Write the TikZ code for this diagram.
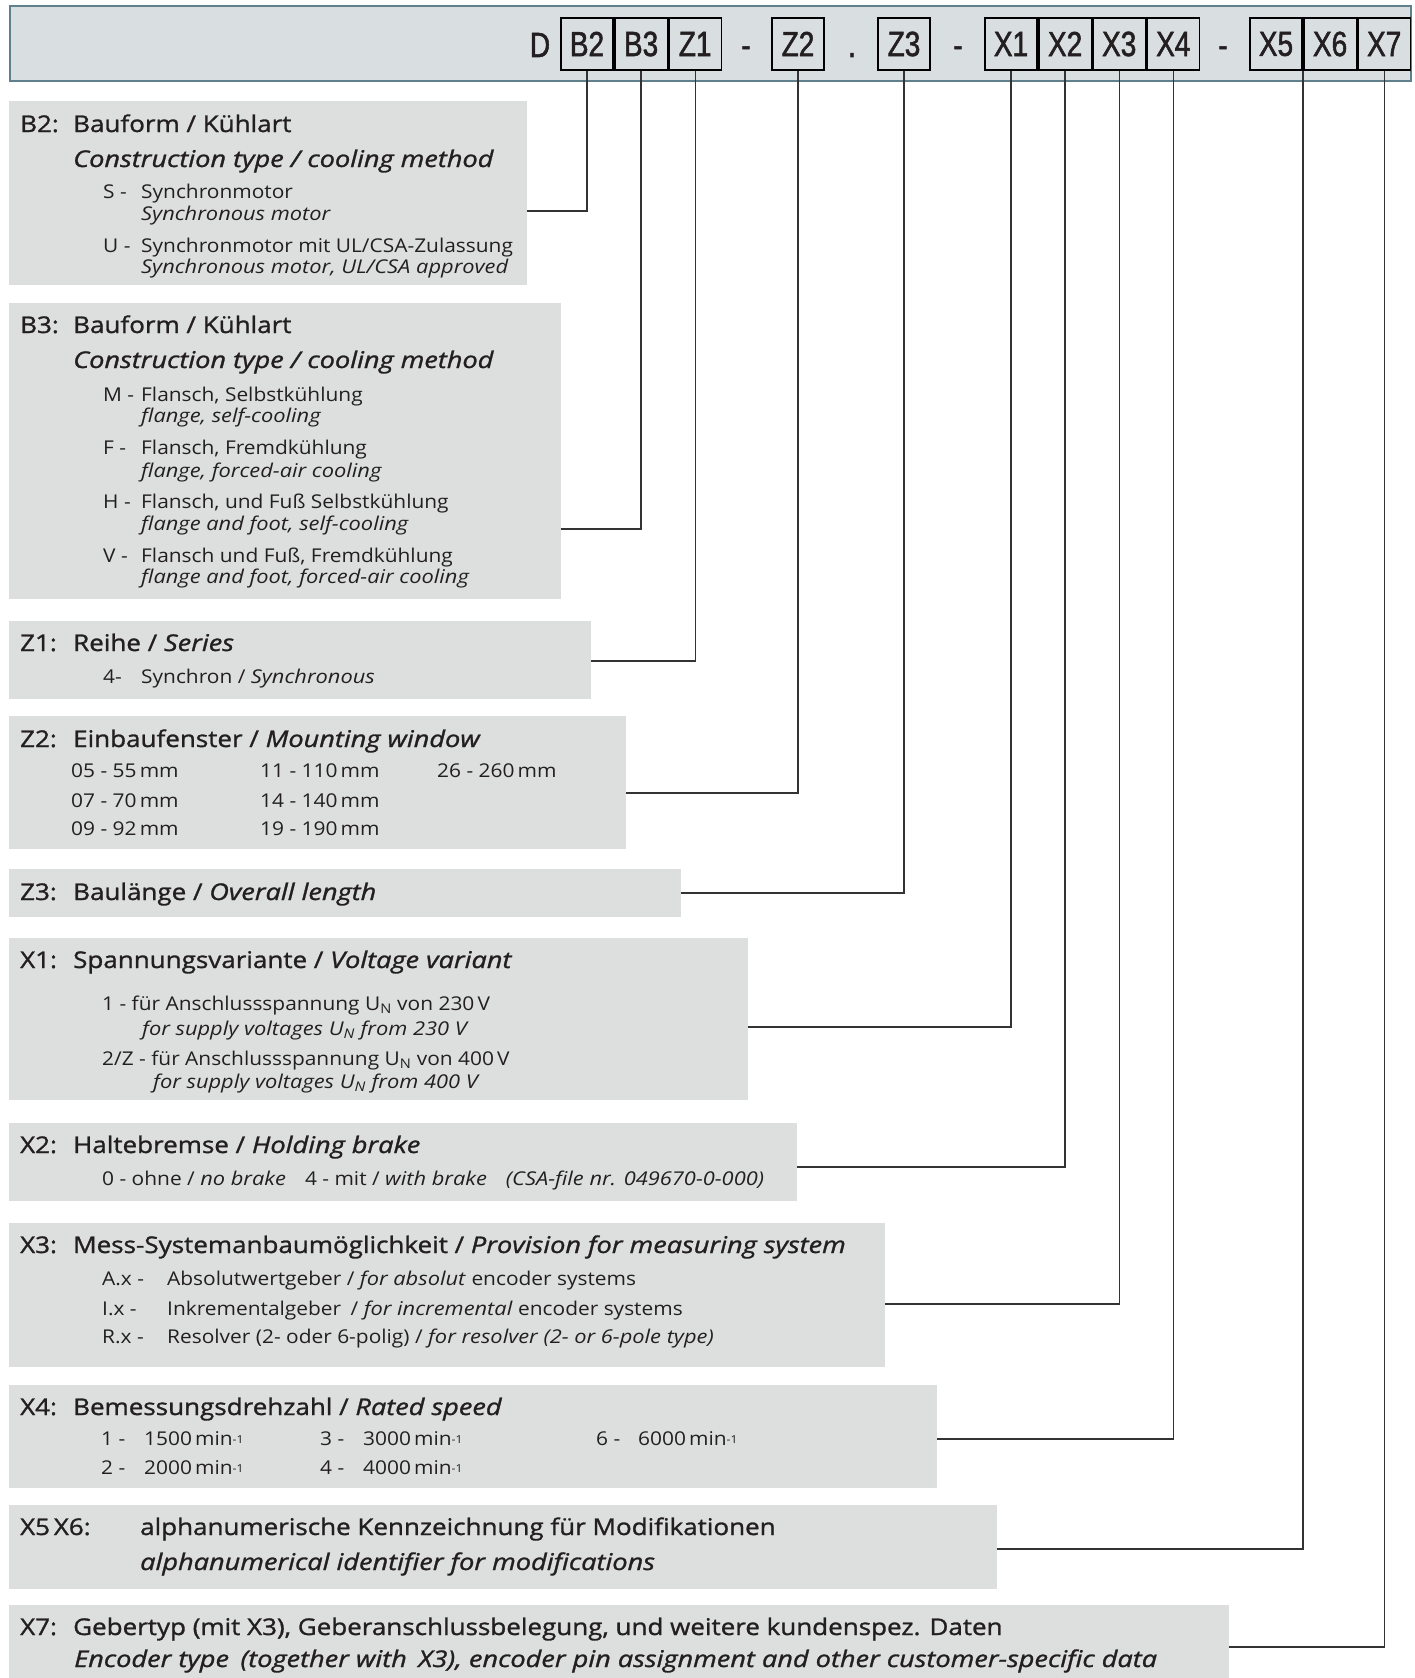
\documentclass[tikz,border=0pt]{standalone}
\usepackage{fontspec}
\setmainfont{Open Sans}[UprightFeatures={FakeStretch=1.10}, ItalicFeatures={FakeStretch=1.15}]
\newfontfamily\headfont{Open Sans}[FakeBold=1.2, UprightFeatures={FakeStretch=1.13}, ItalicFeatures={FakeStretch=1.18}]
\newfontfamily\codefont[FakeStretch=0.8, FakeBold=1.5]{Liberation Sans}
\usepackage{tikz}
\usetikzlibrary{positioning}

\definecolor{barfill}{RGB}{217,222,225}
\definecolor{barline}{RGB}{96,128,140}
\definecolor{panelfill}{RGB}{220,223,222}
\definecolor{inkgray}{RGB}{35,31,32}

\newcommand{\headkey}[1]{\makebox[53pt][l]{#1}}
\newcommand{\itemkey}[1]{\makebox[38pt][l]{#1}}
\newcommand{\permin}{\,min\raisebox{2pt}{\fontsize{11}{11}\selectfont -1}}

\begin{document}
\begin{tikzpicture}[
		x=1pt, y=-1pt,
		bar/.style={draw=barline, line width=2.4pt, fill=barfill, inner sep=0pt},
		codebox/.style={draw, line width=1.6pt, minimum width=52.5pt, minimum height=52pt, inner sep=0pt, font=\codefont\fontsize{35}{35}\selectfont},
		codesep/.style={anchor=base, inner sep=0pt, font=\codefont\fontsize{35}{35}\selectfont},
		panel/.style={fill=panelfill, anchor=north west, inner sep=0pt},
		head/.style={anchor=base west, inner sep=0pt, font=\headfont\fontsize{23}{27}\selectfont},
		headit/.style={head, font=\headfont\fontsize{23}{27}\selectfont\itshape},
		item/.style={anchor=base west, inner sep=0pt, font=\fontsize{19}{22}\selectfont},
		itemit/.style={item, font=\fontsize{19}{22}\selectfont\itshape},
		link/.style={draw=black!80, line width=1.3pt},
		text=inkgray
		]
		\useasboundingbox (0,0) rectangle (1415,1678);
		
		% Type code bar
		\node[bar, minimum width=1401pt, minimum height=75pt] (bar) at (710.5,43.5) {};
		\node[codesep] (d) at (540,57) {D};
		\node[codebox] (B2) at (587,44) {B2};
		\node[codebox, right=0pt of B2] (B3) {B3};
		\node[codebox, right=0pt of B3] (Z1) {Z1};
		\node[codesep] (s1) at (746,57) {-};
		\node[codebox] (Z2) at (798,44) {Z2};
		\node[codesep] (s2) at (852,57) {.};
		\node[codebox] (Z3) at (904,44) {Z3};
		\node[codesep] (s3) at (958,57) {-};
		\node[codebox] (X1) at (1011,44) {X1};
		\node[codebox, right=0pt of X1] (X2) {X2};
		\node[codebox, right=0pt of X2] (X3) {X3};
		\node[codebox, right=0pt of X3] (X4) {X4};
		\node[codesep] (s4) at (1223,57) {-};
		\node[codebox] (X5) at (1276,44) {X5};
		\node[codebox, right=0pt of X5] (X6) {X6};
		\node[codebox, right=0pt of X6] (X7) {X7};
		
		% Grey panels
		\node[panel, minimum width=518pt, minimum height=184pt] (pB2) at (9,101) {};
		\node[panel, minimum width=552pt, minimum height=296pt] (pB3) at (9,303) {};
		\node[panel, minimum width=582pt, minimum height=78pt] (pZ1) at (9,621) {};
		\node[panel, minimum width=617pt, minimum height=133pt] (pZ2) at (9,716) {};
		\node[panel, minimum width=672pt, minimum height=48pt] (pZ3) at (9,869) {};
		\node[panel, minimum width=739pt, minimum height=162pt] (pX1) at (9,938) {};
		\node[panel, minimum width=788pt, minimum height=78pt] (pX2) at (9,1123) {};
		\node[panel, minimum width=876pt, minimum height=144pt] (pX3) at (9,1223) {};
		\node[panel, minimum width=928pt, minimum height=103pt] (pX4) at (9,1385) {};
		\node[panel, minimum width=988pt, minimum height=84pt] (pX56) at (9,1505) {};
		\node[panel, minimum width=1220pt, minimum height=73pt] (pX7) at (9,1605) {};
		
		% B2
		\node[head] (b2h) at (20,132) {\headkey{B2:}Bauform / Kühlart};
		\node[headit] (b2e) at (73,167) {Construction type / cooling method};
		\node[item] (b2s) at (103,198) {\itemkey{S -}Synchronmotor};
		\node[itemit] (b2si) at (141,220) {Synchronous motor};
		\node[item] (b2u) at (103,252) {\itemkey{U -}Synchronmotor mit UL/CSA-Zulassung};
		\node[itemit] (b2ui) at (141,273) {Synchronous motor, UL/CSA approved};
		
		% B3
		\node[head] (b3h) at (20,333) {\headkey{B3:}Bauform / Kühlart};
		\node[headit] (b3e) at (73,368) {Construction type / cooling method};
		\node[item] (b3m) at (103,401) {\itemkey{M -}Flansch, Selbstkühlung};
		\node[itemit] (b3mi) at (141,422) {flange, self-cooling};
		\node[item] (b3f) at (103,454) {\itemkey{F -}Flansch, Fremdkühlung};
		\node[itemit] (b3fi) at (141,477) {flange, forced-air cooling};
		\node[item] (b3h) at (103,508) {\itemkey{H -}Flansch, und Fuß Selbstkühlung};
		\node[itemit] (b3hi) at (141,530) {flange and foot, self-cooling};
		\node[item] (b3v) at (103,562) {\itemkey{V -}Flansch und Fuß, Fremdkühlung};
		\node[itemit] (b3vi) at (141,583) {flange and foot, forced-air cooling};
		
		% Z1
		\node[head] (z1h) at (20,651) {\headkey{Z1:}Reihe / \textit{Series}};
		\node[item] (z1a) at (103,683) {\itemkey{4-}Synchron / \textit{Synchronous}};
		
		% Z2
		\node[head] (z2h) at (20,747) {\headkey{Z2:}Einbaufenster / \textit{Mounting window}};
		\node[item] (z2a) at (71,777) {\makebox[189pt][l]{05 - 55\,mm}\makebox[177pt][l]{11 - 110\,mm}26 - 260\,mm};
		\node[item] (z2b) at (71,807) {\makebox[189pt][l]{07 - 70\,mm}14 - 140\,mm};
		\node[item] (z2c) at (71,835) {\makebox[189pt][l]{09 - 92\,mm}19 - 190\,mm};
		
		% Z3
		\node[head] (z3h) at (20,900) {\headkey{Z3:}Baulänge / \textit{Overall length}};
		
		% X1
		\node[head] (x1h) at (20,968) {\headkey{X1:}Spannungsvariante / \textit{Voltage variant}};
		\node[item] (x1a) at (102,1010) {1 - für Anschlussspannung U\textsubscript{N} von 230\,V};
		\node[itemit] (x1ai) at (142,1035) {for supply voltages U\textsubscript{N} from 230 V};
		\node[item] (x1b) at (102,1065) {2/Z - für Anschlussspannung U\textsubscript{N} von 400\,V};
		\node[itemit] (x1bi) at (153,1088) {for supply voltages U\textsubscript{N} from 400 V};
		
		% X2
		\node[head] (x2h) at (20,1153) {\headkey{X2:}Haltebremse / \textit{Holding brake}};
		\node[item] (x2a) at (102,1185) {0 - ohne / \textit{no brake}\quad 4 - mit / \textit{with brake}\quad \textit{(CSA-file nr. 049670-0-000)}};
		
		% X3
		\node[head] (x3h) at (20,1253) {\headkey{X3:}Mess-Systemanbaumöglichkeit / \textit{Provision for measuring system}};
		\node[item] (x3a) at (102,1285) {\makebox[65pt][l]{A.x -}Absolutwertgeber / \textit{for absolut} encoder systems};
		\node[item] (x3b) at (102,1315) {\makebox[65pt][l]{I.x -}Inkrementalgeber\enspace/ \textit{for incremental} encoder systems};
		\node[item] (x3c) at (102,1343) {\makebox[65pt][l]{R.x -}Resolver (2- oder 6-polig) / \textit{for resolver (2- or 6-pole type)}};
		
		% X4
		\node[head] (x4h) at (20,1415) {\headkey{X4:}Bemessungsdrehzahl / \textit{Rated speed}};
		\node[item] (x4a) at (101,1445) {\makebox[43pt][l]{1 -}\makebox[176pt][l]{1500\permin}\makebox[43pt][l]{3 -}\makebox[233pt][l]{3000\permin}\makebox[42pt][l]{6 -}6000\permin};
		\node[item] (x4b) at (101,1474) {\makebox[43pt][l]{2 -}\makebox[176pt][l]{2000\permin}\makebox[43pt][l]{4 -}4000\permin};
		
		% X5 X6
		\node[head] (x56h) at (20,1535) {\makebox[120pt][l]{X5\,X6:}alphanumerische Kennzeichnung für Modifikationen};
		\node[headit] (x56e) at (140,1570) {alphanumerical identifier for modifications};
		
		% X7
		\node[head] (x7h) at (20,1635) {\headkey{X7:}Gebertyp (mit X3), Geberanschlussbelegung, und weitere kundenspez. Daten};
		\node[headit] (x7e) at (74,1667) {Encoder type\enspace(together with\enspace X3), encoder pin assignment and other customer-specific data};
		
		% Line ends at the panels
		\coordinate (jB2) at (527,211);
		\coordinate (jB3) at (561,529);
		\coordinate (jZ1) at (591,661);
		\coordinate (jZ2) at (626,793);
		\coordinate (jZ3) at (681,893);
		\coordinate (jX1) at (748,1027);
		\coordinate (jX2) at (797,1167);
		\coordinate (jX3) at (885,1304);
		\coordinate (jX4) at (937,1439);
		\coordinate (jX56) at (997,1549);
		\coordinate (jX7) at (1229,1647);
		
		% Leader lines
		\draw[link] (B2.south) |- (jB2);
		\draw[link] (B3.south) |- (jB3);
		\draw[link] (Z1.south) |- (jZ1);
		\draw[link] (Z2.south) |- (jZ2);
		\draw[link] (Z3.south) |- (jZ3);
		\draw[link] (X1.south) |- (jX1);
		\draw[link] (X2.south) |- (jX2);
		\draw[link] (X3.south) |- (jX3);
		\draw[link] (X4.south) |- (jX4);
		\draw[link] (X5.south east) |- (jX56);
		\draw[link] (X7.south) |- (jX7);
	\end{tikzpicture}
\end{document}
